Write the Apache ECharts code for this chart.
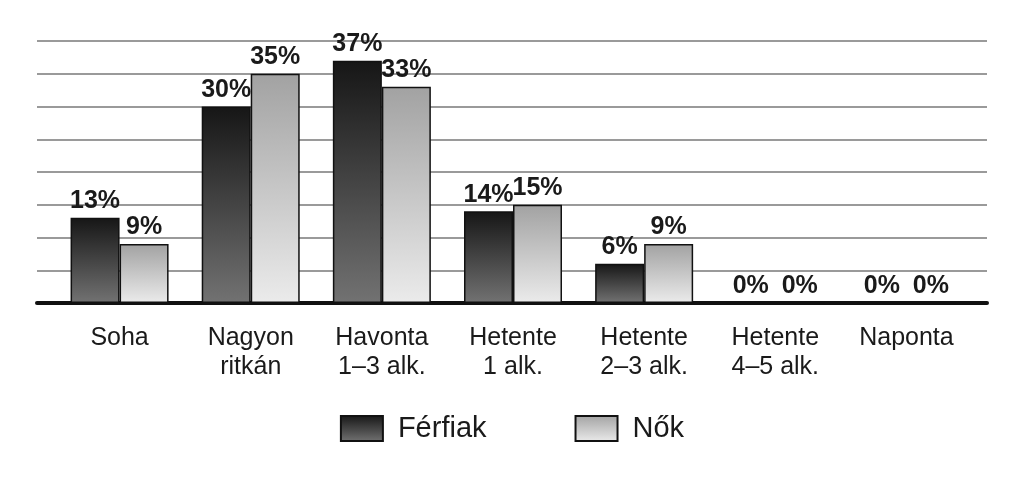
<!DOCTYPE html>
<html>
<head>
    <meta charset="UTF-8">
    <script type="text/javascript" src="https://cdn.jsdelivr.net/npm/echarts@6/dist/echarts.min.js"></script>
</head>
<body style="margin: 0;padding: 0;background: #fff;">
<div id="main" style="width: 1024px;height:484px;"></div>
<script>
    // adatok
    var categories = ['Soha', 'Nagyon\nritkán', 'Havonta\n1–3 alk.', 'Hetente\n1 alk.', 'Hetente\n2–3 alk.', 'Hetente\n4–5 alk.', 'Naponta']
    var ferfiak = [13, 30, 37, 14, 6, 0, 0]
    var nok = [9, 35, 33, 15, 9, 0, 0]
    var yTicks = [0, 5, 10, 15, 20, 25, 30, 35, 40]

    var font = '"Liberation Sans", Arial, Helvetica, sans-serif'
    var chart = echarts.init(document.getElementById('main'));

    var darkFill = new echarts.graphic.LinearGradient(0, 0, 0, 1, [
        {offset: 0, color: '#161616'},
        {offset: 1, color: '#727272'}
    ])
    var lightFill = new echarts.graphic.LinearGradient(0, 0, 0, 1, [
        {offset: 0, color: '#a2a2a2'},
        {offset: 1, color: '#ebebeb'}
    ])

    var label = {
        show: true,
        position: 'top',
        distance: 4,
        formatter: '{c}%',
        fontFamily: font,
        fontWeight: 'bold',
        fontSize: 25,
        color: '#1a1a1a'
    }

    var option = {
        animation: false,
        grid: [
            {left: 54, right: 52, top: 41, bottom: 181},
            {left: 37, right: 37, top: 41, bottom: 181}
        ],
        legend: {
            data: ['Férfiak', 'Nők'],
            icon: 'rect',
            bottom: 36,
            left: 'center',
            itemWidth: 42,
            itemHeight: 25,
            itemGap: 88,
            textStyle: {
                fontFamily: font,
                fontSize: 29,
                color: '#1a1a1a',
                padding: [0, 0, 0, 10]
            }
        },
        xAxis: [
            {
                type: 'category',
                gridIndex: 0,
                data: categories,
                axisLine: {show: false},
                axisTick: {show: false},
                axisLabel: {
                    margin: 21,
                    fontFamily: font,
                    fontSize: 25,
                    lineHeight: 29,
                    color: '#1a1a1a'
                }
            },
            {
                type: 'category',
                gridIndex: 1,
                data: categories,
                axisLine: {show: true, lineStyle: {color: '#111', width: 4}},
                axisTick: {show: false},
                axisLabel: {show: false}
            }
        ],
        yAxis: [
            {
                type: 'value',
                gridIndex: 0,
                min: yTicks[0],
                max: yTicks[yTicks.length - 1],
                interval: 5,
                axisLine: {show: false},
                axisTick: {show: false},
                axisLabel: {show: false},
                splitLine: {show: false}
            },
            {
                type: 'value',
                gridIndex: 1,
                min: yTicks[0],
                max: yTicks[yTicks.length - 1],
                interval: 5,
                axisLine: {show: false},
                axisTick: {show: false},
                axisLabel: {show: false},
                splitLine: {show: true, lineStyle: {color: '#9a9a9a', width: 2}}
            }
        ],
        series: [
            {
                name: 'Férfiak',
                type: 'bar',
                xAxisIndex: 0,
                yAxisIndex: 0,
                data: ferfiak,
                barWidth: 49,
                barGap: '0%',
                itemStyle: {color: darkFill, borderColor: '#111', borderWidth: 1.5},
                label: label
            },
            {
                name: 'Nők',
                type: 'bar',
                xAxisIndex: 0,
                yAxisIndex: 0,
                data: nok,
                barWidth: 49,
                barGap: '0%',
                itemStyle: {color: lightFill, borderColor: '#111', borderWidth: 1.5},
                label: label
            }
        ]
    };
    chart.setOption(option);
</script>
</body>
</html>
